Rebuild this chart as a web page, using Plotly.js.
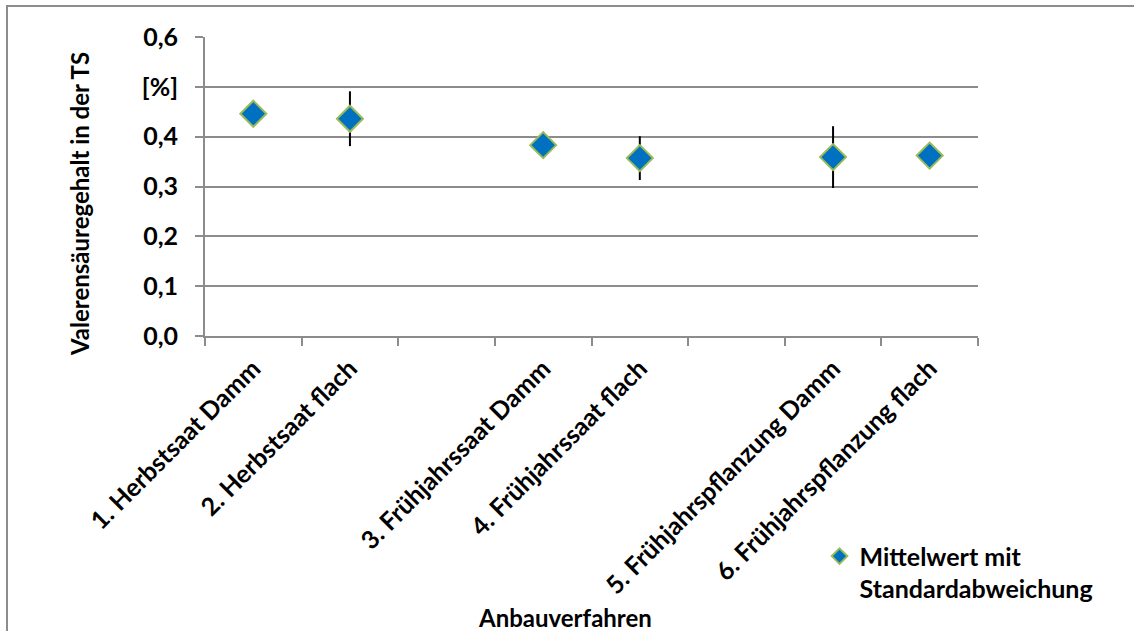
<!DOCTYPE html>
<html>
<head>
<meta charset="utf-8">
<script src="https://cdn.plot.ly/plotly-3.0.1.min.js"></script>
<style>
  html, body { margin: 0; padding: 0; background: #fff; }
  #frame { position: absolute; left: 6px; top: 5px; width: 1140px; height: 640px;
           border-left: 2px solid #8c8c8c; border-top: 2px solid #8c8c8c; pointer-events: none; }
  #chart { position: absolute; left: 0; top: 0; width: 1134px; height: 631px; }
</style>
</head>
<body>
<div id="chart"></div>
<div id="frame"></div>
<script>
// Categories (two empty slots separate the groups, as in the reference)
const categories = [
  "1. Herbstsaat Damm",
  "2. Herbstsaat flach",
  " ",
  "3. Frühjahrssaat Damm",
  "4. Frühjahrssaat flach",
  "  ",
  "5. Frühjahrspflanzung Damm",
  "6. Frühjahrspflanzung flach"
];
// Mean values (Valerensäuregehalt in der TS, %)
const meanValues = [0.446, 0.436, null, 0.383, 0.357, null, 0.359, 0.362];
// Standard deviations
const sdValues = [0.015, 0.055, null, 0.015, 0.044, null, 0.062, 0.015];
// Y tick values and labels (the 0,5 label reads "[%]" in the original)
const yTickVals = [0, 0.1, 0.2, 0.3, 0.4, 0.5, 0.6];
const yTickText = ["0,0", "0,1", "0,2", "0,3", "0,4", "[%]", "0,6"];
const yTitle = "Valerensäuregehalt in der TS";
const xTitle = "Anbauverfahren";
const seriesName = "Mittelwert mit<br>Standardabweichung";

const FONT = "Lato, 'Open Sans', sans-serif";
const GRID = "#8c8c8c";
const boldFont = { family: FONT, size: 25, color: "#000000", weight: "bold" };
const titleFont = { family: FONT, size: 24, color: "#000000", weight: "bold" };

const trace = {
  type: "scatter",
  mode: "markers",
  x: categories,
  y: meanValues,
  name: seriesName,
  marker: { symbol: "diamond", size: 20, color: "#0070C0",
            line: { color: "#9BBB59", width: 2 } },
  error_y: { type: "data", array: sdValues, visible: true,
             color: "#000000", thickness: 2, width: 0 },
  showlegend: true
};

const layout = {
  width: 1134, height: 631,
  margin: { l: 205, r: 156, t: 37, b: 295 },
  paper_bgcolor: "#ffffff", plot_bgcolor: "#ffffff",
  font: boldFont,
  showlegend: true,
  legend: { x: 0.795, xanchor: "left", y: -0.66, yanchor: "top", valign: "top",
            font: boldFont, bgcolor: "rgba(0,0,0,0)", itemsizing: "constant" },
  xaxis: {
    type: "category",
    categoryorder: "array", categoryarray: categories,
    range: [-0.5, 7.5],
    tickson: "boundaries",
    ticks: "outside", ticklen: 8, tickwidth: 2, tickcolor: GRID,
    ticklabelstandoff: 6,
    showline: true, linecolor: GRID, linewidth: 2,
    showgrid: false, zeroline: false,
    tickangle: -45,
    tickfont: boldFont,
    automargin: false
  },
  yaxis: {
    range: [0, 0.6],
    tickmode: "array", tickvals: yTickVals, ticktext: yTickText,
    ticks: "outside", ticklen: 8, tickwidth: 2, tickcolor: GRID,
    ticklabelstandoff: 12,
    showline: true, linecolor: GRID, linewidth: 2,
    showgrid: true, gridcolor: GRID, gridwidth: 2,
    zeroline: false,
    tickfont: boldFont,
    automargin: false
  },
  annotations: [
    { text: yTitle, xref: "paper", yref: "paper", x: -0.1617, y: 0.4415,
      xanchor: "center", yanchor: "middle", textangle: -90, showarrow: false,
      font: titleFont },
    { text: xTitle, xref: "paper", yref: "paper", x: 0.4657, y: -0.94,
      xanchor: "center", yanchor: "middle", showarrow: false, font: titleFont }
  ]
};

Plotly.newPlot("chart", [trace], layout, { displayModeBar: false, staticPlot: true });
</script>
</body>
</html>
